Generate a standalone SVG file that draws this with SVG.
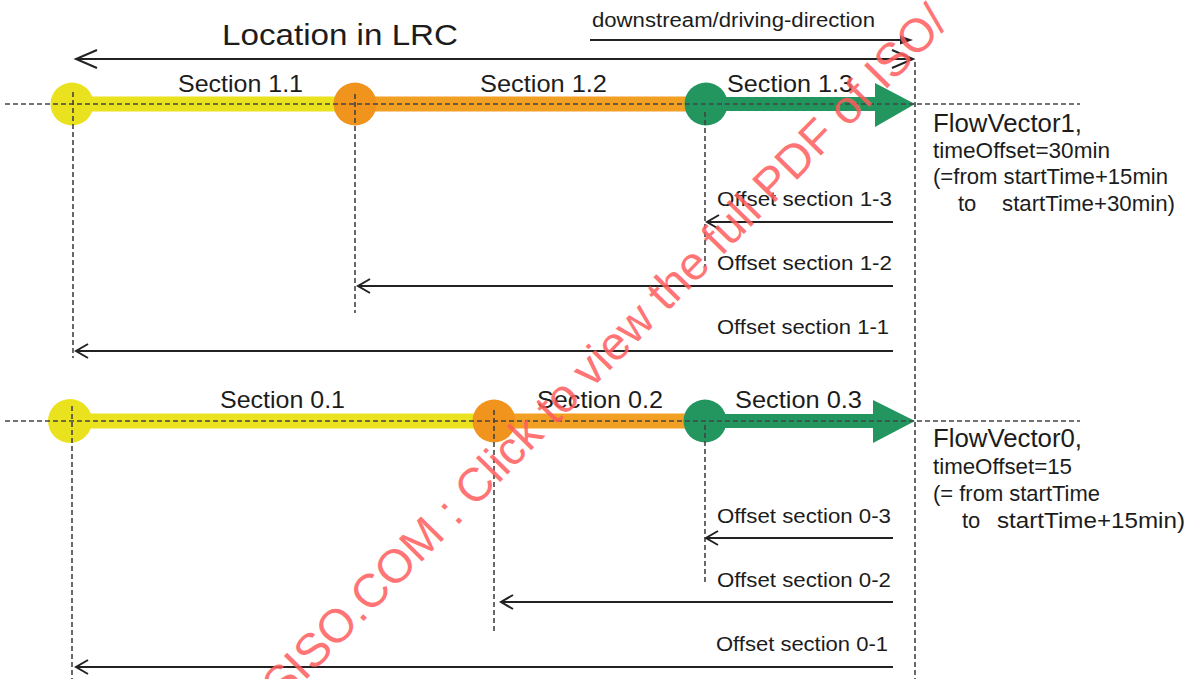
<svg xmlns="http://www.w3.org/2000/svg" width="1186" height="679" viewBox="0 0 1186 679">
  <defs>
    <style>
      text { font-family: "Liberation Sans", Arial, sans-serif; fill: #1c1c1c; }
      .title { font-size: 30px; }
      .small { font-size: 20px; }
      .sec { font-size: 24px; }
      .off { font-size: 21px; }
      .fv { font-size: 25px; }
      .info { font-size: 22px; }
      .guide { stroke: #444; stroke-width: 1.6; stroke-dasharray: 5 3; fill: none; }
      .arrow { stroke: #222; stroke-width: 2; fill: none; }
      .head { stroke: #222; stroke-width: 2; fill: none; stroke-linejoin: miter; }
      .yel { stroke: #ebe21f; stroke-width: 15; }
      .org { stroke: #f2a024; stroke-width: 15; }
      .grn { stroke: #23955e; stroke-width: 14; }
      .watermark { font-family: "Liberation Sans", Arial, sans-serif; font-size: 47px; fill: #ff5c5c; opacity: 0.85; }
    </style>
  </defs>

  <rect width="1186" height="679" fill="#ffffff"/>

  <!-- header: travel direction and location reference -->
  <g id="header">
    <text class="small" x="592" y="27" textLength="283" lengthAdjust="spacingAndGlyphs">downstream/driving-direction</text>
    <text class="title" x="222" y="45" textLength="236" lengthAdjust="spacingAndGlyphs">Location in LRC</text>
  </g>

  <!-- flow vector 1 -->
  <g id="flow-vector-1">
    <line class="yel" x1="72" y1="104" x2="355" y2="104"/>
    <line class="org" x1="355" y1="104" x2="706" y2="104"/>
    <line class="grn" x1="706" y1="104" x2="880" y2="104"/>
    <polygon points="875,83 915,104 875,127" fill="#23955e"/>
    <circle cx="72" cy="104" r="21.5" fill="#ebe21f"/>
    <circle cx="355" cy="104" r="21.5" fill="#f0941e"/>
    <circle cx="706" cy="104" r="21.5" fill="#23955e"/>
    <text class="sec" x="178" y="92" textLength="125" lengthAdjust="spacingAndGlyphs">Section 1.1</text>
    <text class="sec" x="480" y="92" textLength="127" lengthAdjust="spacingAndGlyphs">Section 1.2</text>
    <text class="sec" x="727" y="92" textLength="126" lengthAdjust="spacingAndGlyphs">Section 1.3</text>
    <text class="fv" x="933" y="132" textLength="149" lengthAdjust="spacingAndGlyphs">FlowVector1,</text>
    <text class="info" x="933" y="158" textLength="177" lengthAdjust="spacingAndGlyphs">timeOffset=30min</text>
    <text class="info" x="933" y="184" textLength="235" lengthAdjust="spacingAndGlyphs">(=from startTime+15min</text>
    <text class="info" x="958" y="211">to</text>
    <text class="info" x="1002" y="211" textLength="173" lengthAdjust="spacingAndGlyphs">startTime+30min)</text>
  </g>

  <!-- flow vector 0 -->
  <g id="flow-vector-0">
    <line class="yel" x1="70" y1="421" x2="494" y2="421"/>
    <line class="org" x1="494" y1="421" x2="705" y2="421"/>
    <line class="grn" x1="705" y1="421" x2="878" y2="421"/>
    <polygon points="873,400 915,421 873,443" fill="#23955e"/>
    <circle cx="70" cy="421" r="22" fill="#ebe21f"/>
    <circle cx="494" cy="421" r="21.5" fill="#f0941e"/>
    <circle cx="705" cy="421" r="21.5" fill="#23955e"/>
    <text class="sec" x="220" y="408" textLength="125" lengthAdjust="spacingAndGlyphs">Section 0.1</text>
    <text class="sec" x="537" y="408" textLength="126" lengthAdjust="spacingAndGlyphs">Section 0.2</text>
    <text class="sec" x="735" y="408" textLength="127" lengthAdjust="spacingAndGlyphs">Section 0.3</text>
    <text class="fv" x="933" y="447" textLength="149" lengthAdjust="spacingAndGlyphs">FlowVector0,</text>
    <text class="info" x="933" y="474" textLength="139" lengthAdjust="spacingAndGlyphs">timeOffset=15</text>
    <text class="info" x="933" y="501" textLength="167" lengthAdjust="spacingAndGlyphs">(= from startTime</text>
    <text class="info" x="962" y="528">to</text>
    <text class="info" x="997" y="528" textLength="188" lengthAdjust="spacingAndGlyphs">startTime+15min)</text>
  </g>

  <!-- offset labels -->
  <g id="offset-labels">
    <text class="off" x="717" y="206" textLength="175" lengthAdjust="spacingAndGlyphs">Offset section 1-3</text>
    <text class="off" x="717" y="270" textLength="175" lengthAdjust="spacingAndGlyphs">Offset section 1-2</text>
    <text class="off" x="717" y="334" textLength="172" lengthAdjust="spacingAndGlyphs">Offset section 1-1</text>
    <text class="off" x="717" y="523" textLength="174" lengthAdjust="spacingAndGlyphs">Offset section 0-3</text>
    <text class="off" x="717" y="587" textLength="174" lengthAdjust="spacingAndGlyphs">Offset section 0-2</text>
    <text class="off" x="716" y="651" textLength="172" lengthAdjust="spacingAndGlyphs">Offset section 0-1</text>
  </g>

  <!-- connectors: guide lines and offset arrows -->
  <g id="connectors">
    <!-- dashed reference lines -->
    <line class="guide" x1="5" y1="104" x2="1080" y2="104"/>
    <line class="guide" x1="5" y1="421" x2="1080" y2="421"/>
    <line class="guide" x1="73" y1="92" x2="73" y2="358"/>
    <line class="guide" x1="355" y1="94" x2="355" y2="313"/>
    <line class="guide" x1="705" y1="112" x2="705" y2="267"/>
    <line class="guide" x1="915" y1="62" x2="915" y2="679"/>
    <line class="guide" x1="72" y1="406" x2="72" y2="679"/>
    <line class="guide" x1="494" y1="410" x2="494" y2="632"/>
    <line class="guide" x1="705" y1="425" x2="705" y2="585"/>

    <!-- driving direction -->
    <line class="arrow" x1="590" y1="40" x2="904" y2="40" stroke-width="1.8"/>
    <polygon points="900,35.5 913,40 900,44.5" fill="#222"/>

    <!-- location extent -->
    <line class="arrow" x1="76" y1="59" x2="912" y2="59"/>
    <polyline class="head" points="97,50 76,59 97,68"/>
    <polyline class="head" points="892,50 913,59 892,68"/>

    <!-- offsets of flow vector 1 -->
    <line class="arrow" x1="893" y1="222" x2="707" y2="222"/>
    <polyline class="head" points="719,215 707,222 719,229"/>
    <line class="arrow" x1="893" y1="286" x2="358" y2="286"/>
    <polyline class="head" points="370,279 358,286 370,293"/>
    <line class="arrow" x1="893" y1="351" x2="76" y2="351"/>
    <polyline class="head" points="88,344 76,351 88,358"/>

    <!-- offsets of flow vector 0 -->
    <line class="arrow" x1="893" y1="538" x2="706" y2="538"/>
    <polyline class="head" points="718,531 706,538 718,545"/>
    <line class="arrow" x1="893" y1="602" x2="501" y2="602"/>
    <polyline class="head" points="513,595 501,602 513,609"/>
    <line class="arrow" x1="893" y1="667" x2="76" y2="667"/>
    <polyline class="head" points="88,660 76,667 88,674"/>
  </g>

  <!-- document watermark -->
  <text class="watermark" transform="translate(282,704) rotate(-45.5)">SISO.COM : Click to view the full PDF of ISO/</text>
</svg>
